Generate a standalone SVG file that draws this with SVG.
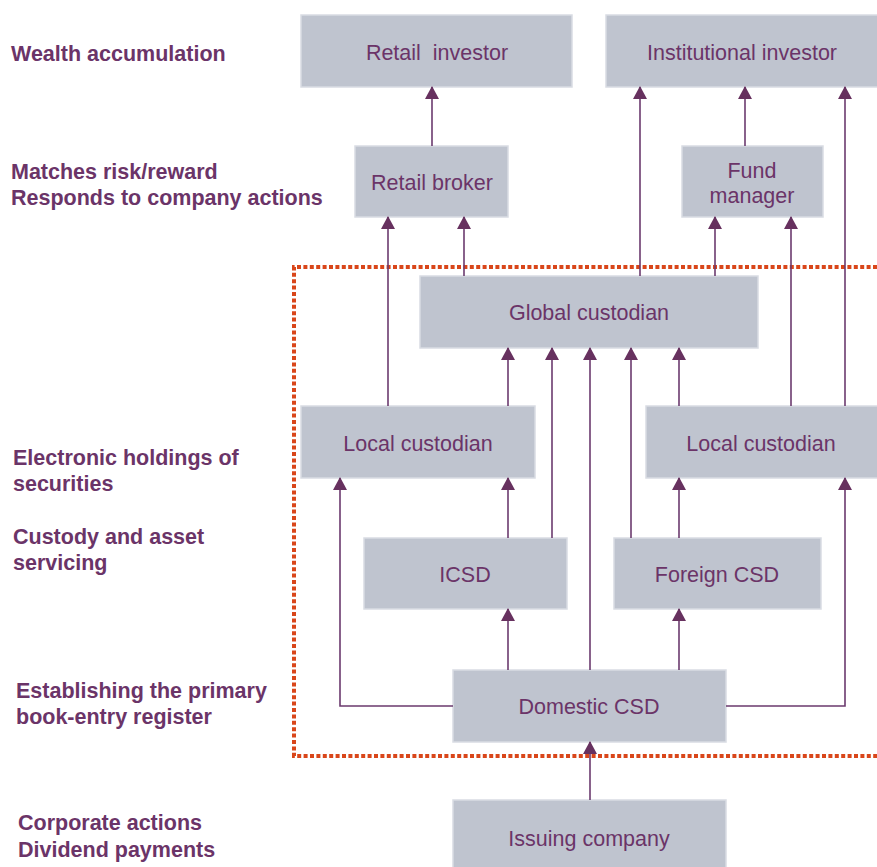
<svg xmlns="http://www.w3.org/2000/svg" width="877" height="867" viewBox="0 0 877 867">
  <defs>
    <!-- solid triangular head, drawn along +x so orient="auto" points it up the line -->
    <marker id="arrow" markerWidth="13" markerHeight="14" refX="12" refY="7" orient="auto" markerUnits="userSpaceOnUse" viewBox="0 0 13 14">
      <path d="M0,0 L13,7 L0,14 Z" fill="#67315F"/>
    </marker>
  </defs>
  <style>
    .box { fill: #BFC4CF; stroke: #D9DCE3; stroke-width: 1.5; }
    .lbl { font-family: "Liberation Sans", Arial, sans-serif; font-size: 21.5px; fill: #6B3468; text-anchor: middle; }
    .side { font-family: "Liberation Sans", Arial, sans-serif; font-size: 21.5px; font-weight: bold; fill: #6B3468; }
    .conn { fill: none; stroke: #6B3A6E; stroke-width: 1.6; }
    .frame { fill: none; stroke: #D9461A; stroke-width: 4; stroke-dasharray: 4 2.4; }
  </style>

  <rect width="877" height="867" fill="#FFFFFF"/>

  <!-- side captions -->
  <g id="captions">
    <text class="side" x="11" y="61">Wealth accumulation</text>
    <text class="side" x="11" y="179">Matches risk/reward</text>
    <text class="side" x="11" y="205">Responds to company actions</text>
    <text class="side" x="13" y="465">Electronic holdings of</text>
    <text class="side" x="13" y="491">securities</text>
    <text class="side" x="13" y="544">Custody and asset</text>
    <text class="side" x="13" y="570">servicing</text>
    <text class="side" x="16" y="698">Establishing the primary</text>
    <text class="side" x="16" y="724">book-entry register</text>
    <text class="side" x="18" y="830">Corporate actions</text>
    <text class="side" x="18" y="857">Dividend payments</text>
  </g>

  <!-- dotted boundary of the custody layer -->
  <path class="frame" d="M877,267 L294,267 L294,756 L877,756"/>

  <!-- nodes -->
  <g id="retail-investor">
    <rect class="box" x="301" y="15" width="271" height="72"/>
    <text class="lbl" x="437" y="59.5" xml:space="preserve">Retail  investor</text>
  </g>
  <g id="institutional-investor">
    <rect class="box" x="606" y="15" width="272" height="72"/>
    <text class="lbl" x="742" y="59.5">Institutional investor</text>
  </g>
  <g id="retail-broker">
    <rect class="box" x="355" y="146" width="153" height="71"/>
    <text class="lbl" x="432" y="190">Retail broker</text>
  </g>
  <g id="fund-manager">
    <rect class="box" x="682" y="146" width="141" height="71"/>
    <text class="lbl" x="752" y="178">Fund</text>
    <text class="lbl" x="752" y="203">manager</text>
  </g>
  <g id="global-custodian">
    <rect class="box" x="420" y="276" width="338" height="72"/>
    <text class="lbl" x="589" y="320">Global custodian</text>
  </g>
  <g id="local-custodian-left">
    <rect class="box" x="301" y="406" width="234" height="72"/>
    <text class="lbl" x="418" y="451">Local custodian</text>
  </g>
  <g id="local-custodian-right">
    <rect class="box" x="646" y="406" width="232" height="72"/>
    <text class="lbl" x="761" y="451">Local custodian</text>
  </g>
  <g id="icsd">
    <rect class="box" x="364" y="538" width="203" height="71"/>
    <text class="lbl" x="465" y="582">ICSD</text>
  </g>
  <g id="foreign-csd">
    <rect class="box" x="614" y="538" width="207" height="71"/>
    <text class="lbl" x="717" y="582">Foreign CSD</text>
  </g>
  <g id="domestic-csd">
    <rect class="box" x="453" y="670" width="273" height="72"/>
    <text class="lbl" x="589" y="714">Domestic CSD</text>
  </g>
  <g id="issuing-company">
    <rect class="box" x="453" y="800" width="273" height="70"/>
    <text class="lbl" x="589" y="846">Issuing company</text>
  </g>

  <!-- connectors: each flows upward toward the holder -->
  <g id="connectors">
    <path class="conn" d="M432,146 V87" marker-end="url(#arrow)"/>
    <path class="conn" d="M640,276 V87" marker-end="url(#arrow)"/>
    <path class="conn" d="M745,146 V87" marker-end="url(#arrow)"/>
    <path class="conn" d="M845,406 V87" marker-end="url(#arrow)"/>
    <path class="conn" d="M388,406 V217" marker-end="url(#arrow)"/>
    <path class="conn" d="M464,276 V217" marker-end="url(#arrow)"/>
    <path class="conn" d="M715,276 V217" marker-end="url(#arrow)"/>
    <path class="conn" d="M791,406 V217" marker-end="url(#arrow)"/>
    <path class="conn" d="M508,406 V348" marker-end="url(#arrow)"/>
    <path class="conn" d="M552,538 V348" marker-end="url(#arrow)"/>
    <path class="conn" d="M590,670 V348" marker-end="url(#arrow)"/>
    <path class="conn" d="M631,538 V348" marker-end="url(#arrow)"/>
    <path class="conn" d="M679,406 V348" marker-end="url(#arrow)"/>
    <path class="conn" d="M508,538 V478" marker-end="url(#arrow)"/>
    <path class="conn" d="M679,538 V478" marker-end="url(#arrow)"/>
    <path class="conn" d="M453,706 H340 V478" marker-end="url(#arrow)"/>
    <path class="conn" d="M726,706 H845 V478" marker-end="url(#arrow)"/>
    <path class="conn" d="M508,670 V609" marker-end="url(#arrow)"/>
    <path class="conn" d="M679,670 V609" marker-end="url(#arrow)"/>
    <path class="conn" d="M590,800 V742" marker-end="url(#arrow)"/>
  </g>
</svg>
